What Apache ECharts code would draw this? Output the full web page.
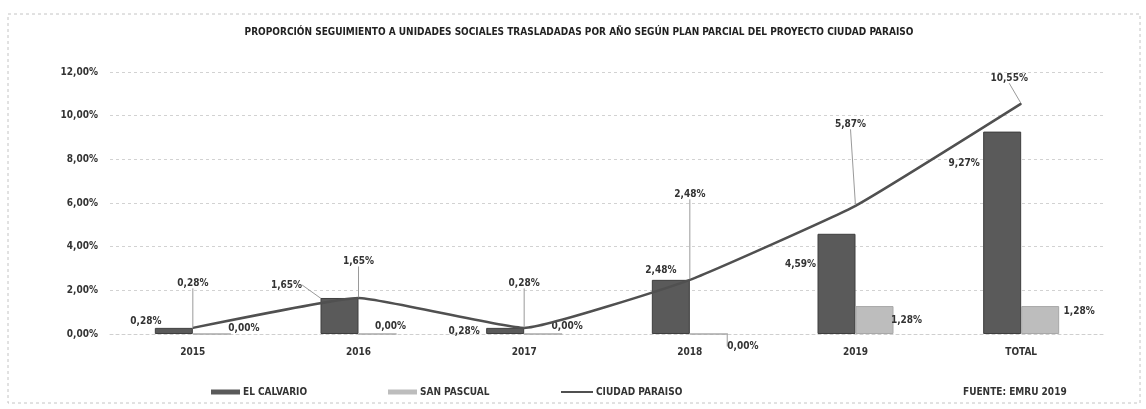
<!DOCTYPE html>
<html>
<head>
<meta charset="utf-8">
<script src="https://cdn.jsdelivr.net/npm/echarts@6/dist/echarts.min.js"></script>
<style>
  html, body { margin: 0; padding: 0; background: #ffffff; }
  #chart { width: 1146px; height: 409px; }
</style>
</head>
<body>
<div id="chart"></div>
<script>
// Categories and values (percent)
const categories = ['2015', '2016', '2017', '2018', '2019', 'TOTAL'];
const elCalvario = [0.28, 1.65, 0.28, 2.48, 4.59, 9.27];
const sanPascual = [0.00, 0.00, 0.00, 0.00, 1.28, 1.28];
const ciudadParaiso = [0.28, 1.65, 0.28, 2.48, 5.87, 10.55];
const yTicks = [0, 2, 4, 6, 8, 10, 12];

const FONT = '"Liberation Sans Narrow", "DejaVu Sans Condensed", "Liberation Sans", sans-serif';
const TXT = '#333333';

const pct = v => v.toFixed(2).replace('.', ',') + '%';

// Callout offsets for the data labels (relative to the default "top" spot)
const calvarioShift = [[-28, 3], [-53, -4], [-41, 13], [-10, 0], [-36, 40], [-38, 41]];
const pascualShift = [[32, 4], [13, 2], [24, 2], [34, 22], [32, 23], [39, 14]];
const paraisoShift = [[0, -35], [0, -27], [0, -35], [0, -76], [-5, -72], [-12, -16]];
const calvarioLeader = [1];
const pascualLeader = [3];

const leaderStyle = { color: '#9a9a9a', width: 1 };
const labelBase = {
  show: true,
  position: 'top',
  distance: 4,
  color: TXT,
  fontFamily: FONT,
  fontWeight: 'bold',
  fontSize: 10,
  formatter: p => pct(p.value)
};
const legendText = { fontFamily: FONT, fontWeight: 'bold', fontSize: 10, color: TXT, padding: [0, 0, 0, -2] };

const withLeaders = (values, idx) => values.map((v, i) => ({
  value: v,
  labelLine: { show: idx.indexOf(i) >= 0, lineStyle: leaderStyle }
}));

const chart = echarts.init(document.getElementById('chart'), null, { renderer: 'canvas' });

chart.setOption({
  backgroundColor: '#ffffff',
  animation: false,
  title: {
    text: 'PROPORCIÓN SEGUIMIENTO A UNIDADES SOCIALES TRASLADADAS POR AÑO SEGÚN PLAN PARCIAL DEL PROYECTO CIUDAD PARAISO',
    left: 574,
    top: 22,
    textAlign: 'center',
    textStyle: { fontFamily: FONT, fontWeight: 'bold', fontSize: 10, color: '#222222' }
  },
  graphic: [
    {
      type: 'rect',
      shape: { x: 8, y: 14, width: 1132, height: 389 },
      style: { fill: 'none', stroke: '#c4c4c4', lineWidth: 1, lineDash: [3, 3] },
      z: -1
    },
    {
      type: 'text',
      left: 963,
      top: 387,
      style: { text: 'FUENTE: EMRU 2019', font: 'bold 10px ' + FONT, fill: TXT }
    }
  ],
  legend: [
    {
      data: [{ name: 'EL CALVARIO', icon: 'rect' }], left: 206, top: 382,
      itemWidth: 29, itemHeight: 5, itemGap: 0, textStyle: legendText,
      itemStyle: { borderWidth: 0 }
    },
    {
      data: [{ name: 'SAN PASCUAL', icon: 'rect' }], left: 383, top: 382,
      itemWidth: 29, itemHeight: 5, itemGap: 0, textStyle: legendText,
      itemStyle: { borderWidth: 0 }
    },
    {
      data: [{ name: 'CIUDAD PARAISO', icon: 'rect' }], left: 556, top: 382,
      itemWidth: 32, itemHeight: 2, itemGap: 0, textStyle: legendText,
      itemStyle: { borderWidth: 0 }
    }
  ],
  grid: { left: 110, right: 42, top: 72, bottom: 75, containLabel: false },
  xAxis: {
    type: 'category',
    data: categories,
    axisTick: { show: false },
    axisLine: { show: true, lineStyle: { color: '#cfcfcf', type: [3, 3] } },
    axisLabel: { margin: 13, color: TXT, fontFamily: FONT, fontWeight: 'bold', fontSize: 10 }
  },
  yAxis: {
    type: 'value',
    min: yTicks[0],
    max: yTicks[yTicks.length - 1],
    interval: yTicks[1] - yTicks[0],
    axisLine: { show: false },
    axisTick: { show: false },
    splitLine: { lineStyle: { color: '#d2d2d2', type: [3, 3] } },
    axisLabel: { margin: 12, color: TXT, fontFamily: FONT, fontWeight: 'bold', fontSize: 10, formatter: v => pct(v) }
  },
  series: [
    {
      name: 'EL CALVARIO',
      type: 'bar',
      barWidth: 38,
      barGap: '0%',
      data: withLeaders(elCalvario, calvarioLeader),
      itemStyle: { color: '#5a5a5a', borderColor: '#3e3e3e', borderWidth: 1 },
      label: labelBase,
      labelLayout: p => ({ dx: calvarioShift[p.dataIndex][0], dy: calvarioShift[p.dataIndex][1] })
    },
    {
      name: 'SAN PASCUAL',
      type: 'bar',
      barWidth: 38,
      barGap: '0%',
      data: withLeaders(sanPascual, pascualLeader),
      itemStyle: { color: '#bdbdbd', borderColor: '#a8a8a8', borderWidth: 1 },
      label: labelBase,
      labelLayout: p => ({ dx: pascualShift[p.dataIndex][0], dy: pascualShift[p.dataIndex][1] })
    },
    {
      name: 'CIUDAD PARAISO',
      type: 'line',
      smooth: 0.12,
      symbol: 'circle',
      symbolSize: 1,
      showSymbol: true,
      data: ciudadParaiso,
      lineStyle: { color: '#505050', width: 2.5 },
      itemStyle: { color: '#505050' },
      label: labelBase,
      labelLine: { show: true, lineStyle: leaderStyle },
      labelLayout: p => ({ dx: paraisoShift[p.dataIndex][0], dy: paraisoShift[p.dataIndex][1] }),
      z: 5
    }
  ]
});
</script>
</body>
</html>
